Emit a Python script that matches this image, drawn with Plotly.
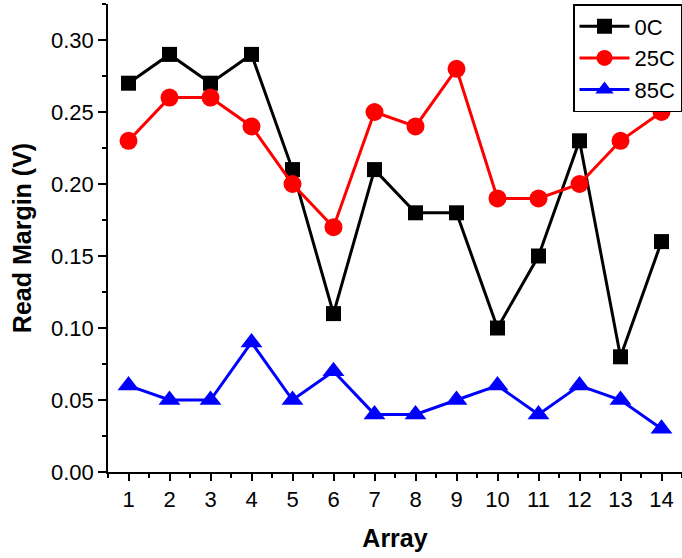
import plotly.graph_objects as go

arrays = list(range(1, 15))
rm_0c = [0.27, 0.29, 0.27, 0.29, 0.21, 0.11, 0.21, 0.18, 0.18, 0.10, 0.15, 0.23, 0.08, 0.16]
rm_25c = [0.23, 0.26, 0.26, 0.24, 0.20, 0.17, 0.25, 0.24, 0.28, 0.19, 0.19, 0.20, 0.23, 0.25]
rm_85c = [0.06, 0.05, 0.05, 0.09, 0.05, 0.07, 0.04, 0.04, 0.05, 0.06, 0.04, 0.06, 0.05, 0.03]
y_ticks = [0.00, 0.05, 0.10, 0.15, 0.20, 0.25, 0.30]

fig = go.Figure()
fig.add_trace(go.Scatter(x=arrays, y=rm_0c, name="0C", mode="lines+markers",
                         line=dict(color="black", width=3), cliponaxis=False,
                         marker=dict(symbol="square", size=15, color="black")))
fig.add_trace(go.Scatter(x=arrays, y=rm_25c, name="25C", mode="lines+markers",
                         line=dict(color="red", width=3), cliponaxis=False,
                         marker=dict(symbol="circle", size=18, color="red")))
fig.add_trace(go.Scatter(x=arrays, y=rm_85c, name="85C", mode="lines+markers",
                         line=dict(color="blue", width=3), cliponaxis=False,
                         marker=dict(symbol="triangle-up", size=19, color="blue")))

font_family = "Liberation Sans, Arial, sans-serif"
fig.update_layout(
    width=682, height=558,
    margin=dict(l=108, r=0, t=4, b=86, autoexpand=False),
    plot_bgcolor="white", paper_bgcolor="white",
    font=dict(family=font_family, color="black", size=22),
    showlegend=True,
    legend=dict(x=1, y=1.0, xanchor="right", yanchor="top",
                bordercolor="black", borderwidth=1.5, bgcolor="white",
                font=dict(size=22), tracegroupgap=0, itemwidth=50),
    xaxis=dict(range=[0.5, 14.5], tickmode="array", tickvals=arrays,
               ticks="outside", ticklen=7, tickwidth=1.5, tickcolor="black",
               showline=True, linecolor="black", linewidth=1.5,
               showgrid=False, zeroline=False, automargin=False,
               minor=dict(dtick=0.5, tick0=0.5, ticks="outside", ticklen=4, tickwidth=1.5, tickcolor="black"),
               title=dict(text="<b>Array</b>", font=dict(size=25), standoff=18),
               tickfont=dict(size=22)),
    yaxis=dict(range=[0, 0.325], tickmode="array", tickvals=y_ticks,
               tickformat=".2f",
               ticks="outside", ticklen=8, tickwidth=1.5, tickcolor="black",
               showline=True, linecolor="black", linewidth=1.5,
               showgrid=False, zeroline=False, automargin=False,
               minor=dict(dtick=0.025, tick0=0, ticks="outside", ticklen=4, tickwidth=1.5, tickcolor="black"),
               title=dict(text="<b>Read Margin (V)</b>", font=dict(size=25), standoff=12),
               tickfont=dict(size=22)),
)
fig.write_html("out.html", config={"displayModeBar": False},
               post_script="document.body.style.margin='0';")
